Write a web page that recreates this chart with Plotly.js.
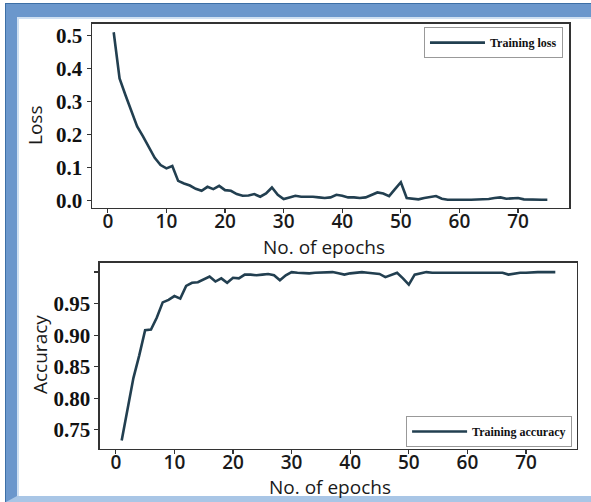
<!DOCTYPE html>
<html>
<head>
<meta charset="utf-8">
<script src="https://cdn.plot.ly/plotly-3.0.1.min.js"></script>
<style>
  html, body { margin: 0; padding: 0; background: #ffffff; }
  #wrap { position: relative; width: 591px; height: 502px; overflow: hidden; background: #ffffff; }
  #frame { position: absolute; left: 6px; top: 4px; width: 600px; height: 498px; box-sizing: border-box;
           border-top: 13px solid #6b97cc; border-left: 11px solid #6b97cc; border-bottom: 6px solid #a9c6e6;
           outline: 1px solid #3d6fa6; background: #ffffff; }
  #inner { position: absolute; left: 0; top: 0; right: 0; bottom: 0; border-top: 2px solid #cfe0f2; border-left: 2px solid #cfe0f2; }
  #chart { position: absolute; left: 0; top: 0; width: 591px; height: 502px; }
</style>
</head>
<body>
<div id="wrap">
  <div id="frame"><div id="inner"></div></div>
  <div id="chart"></div>
</div>
<script>
const epochs = Array.from({length: 75}, (_, i) => i + 1);

const trainingLoss = [
  0.51, 0.37, 0.32, 0.275, 0.225, 0.195, 0.16, 0.13, 0.108, 0.098,
  0.105, 0.06, 0.052, 0.046, 0.036, 0.03, 0.042, 0.035, 0.045, 0.032,
  0.03, 0.02, 0.015, 0.016, 0.02, 0.012, 0.022, 0.04, 0.018, 0.005,
  0.01, 0.015, 0.012, 0.013, 0.012, 0.01, 0.008, 0.01, 0.018, 0.015,
  0.01, 0.01, 0.008, 0.01, 0.018, 0.025, 0.022, 0.014, 0.035, 0.056,
  0.008, 0.005, 0.004, 0.008, 0.012, 0.014, 0.006, 0.003, 0.003, 0.002,
  0.003, 0.003, 0.003, 0.004, 0.005, 0.008, 0.01, 0.006, 0.006, 0.008,
  0.004, 0.003, 0.003, 0.003, 0.003
];

const trainingAccuracy = [
  0.733, 0.78, 0.832, 0.868, 0.908, 0.909, 0.928, 0.952, 0.956, 0.962,
  0.958, 0.978, 0.983, 0.984, 0.988, 0.993, 0.985, 0.99, 0.983, 0.991,
  0.99, 0.996, 0.996, 0.995, 0.996, 0.997, 0.995, 0.987, 0.995, 1.0,
  0.999, 0.998, 0.998, 0.999, 0.999, 0.999, 1.0, 0.998, 0.996, 0.998,
  0.999, 1.0, 0.999, 0.998, 0.997, 0.992, 0.995, 0.999, 0.99, 0.98,
  0.996, 0.998, 1.0, 0.999, 0.999, 1.0, 1.0, 1.0, 1.0, 1.0,
  1.0, 1.0, 1.0, 1.0, 0.999, 0.999, 0.996, 0.998, 0.999, 0.999,
  1.0, 1.0, 1.0, 1.0, 1.0
];

const xTickVals = [0, 10, 20, 30, 40, 50, 60, 70];
const lossTickVals = [0.0, 0.1, 0.2, 0.3, 0.4, 0.5];
const lossTickText = ['0.0', '0.1', '0.2', '0.3', '0.4', '0.5'];
const accTickVals = [0.75, 0.80, 0.85, 0.90, 0.95, 1.00];
const accTickText = ['0.75', '0.80', '0.85', '0.90', '0.95', ''];
const xTitle = 'No. of epochs';
const lossTitle = 'Loss';
const accTitle = 'Accuracy';

const lineColor = '#223f50';
const serifBold = {family: 'Liberation Serif, Times New Roman, serif', size: 21, color: '#111', weight: 700};
const sansTick = {family: 'Open Sans, sans-serif', size: 19, color: '#1a1a1a', weight: 600};
const sansTitle = {family: 'Open Sans, sans-serif', size: 19, color: '#1a1a1a', weight: 500};

const traces = [
  {x: epochs, y: trainingLoss, type: 'scatter', mode: 'lines', name: 'Training loss',
   line: {color: lineColor, width: 2.6}, xaxis: 'x', yaxis: 'y', legend: 'legend'},
  {x: epochs, y: trainingAccuracy, type: 'scatter', mode: 'lines', name: 'Training accuracy',
   line: {color: lineColor, width: 2.6}, xaxis: 'x2', yaxis: 'y2', legend: 'legend2'}
];

const axisCommon = {
  showgrid: false, zeroline: false, showline: true, mirror: true,
  linecolor: '#333', linewidth: 1.5, ticks: 'outside', ticklen: 4, tickwidth: 1.2, tickcolor: '#333'
};

const legendCommon = {
  bgcolor: '#ffffff', bordercolor: '#999', borderwidth: 1,
  font: {family: 'Liberation Serif, Times New Roman, serif', size: 12, color: '#111', weight: 700},
  xanchor: 'right', itemwidth: 55, tracegroupgap: 0
};

function title(text, x, y, angle) {
  return {text: text, xref: 'paper', yref: 'paper', x: x, y: y, xanchor: 'center', yanchor: 'middle',
          showarrow: false, textangle: angle, font: sansTitle, borderpad: 0};
}

const layout = {
  width: 591, height: 502,
  margin: {l: 0, r: 0, t: 0, b: 0},
  paper_bgcolor: 'rgba(0,0,0,0)', plot_bgcolor: '#ffffff',
  showlegend: true,
  xaxis: Object.assign({}, axisCommon, {
    domain: [0.1557, 0.9628], anchor: 'y', range: [-2.7, 78.7],
    tickvals: xTickVals, tickfont: sansTick, ticklabelstandoff: -8
  }),
  yaxis: Object.assign({}, axisCommon, {
    domain: [0.5857, 0.9522], anchor: 'x', range: [-0.022, 0.535],
    tickvals: lossTickVals, ticktext: lossTickText, tickfont: serifBold
  }),
  xaxis2: Object.assign({}, axisCommon, {
    domain: [0.1692, 0.9763], anchor: 'y2', range: [-2.7, 78.7],
    tickvals: xTickVals, tickfont: sansTick, ticklabelstandoff: -8
  }),
  yaxis2: Object.assign({}, axisCommon, {
    domain: [0.1056, 0.4761], anchor: 'x2', range: [0.7196, 1.0144],
    tickvals: accTickVals, ticktext: accTickText, tickfont: serifBold
  }),
  annotations: [
    title(xTitle, 324 / 591, 1 - 247 / 502, 0),
    title(xTitle, 330 / 591, 1 - 487 / 502, 0),
    title(lossTitle, 35 / 591, 1 - 126 / 502, -90),
    title(accTitle, 40 / 591, 1 - 355 / 502, -90)
  ],
  legend: Object.assign({}, legendCommon, {x: 0.9526, y: 0.946, yanchor: 'top'}),
  legend2: Object.assign({}, legendCommon, {x: 0.968, y: 0.1096, yanchor: 'bottom'})
};

Plotly.newPlot('chart', traces, layout, {displayModeBar: false, staticPlot: true});
</script>
</body>
</html>
